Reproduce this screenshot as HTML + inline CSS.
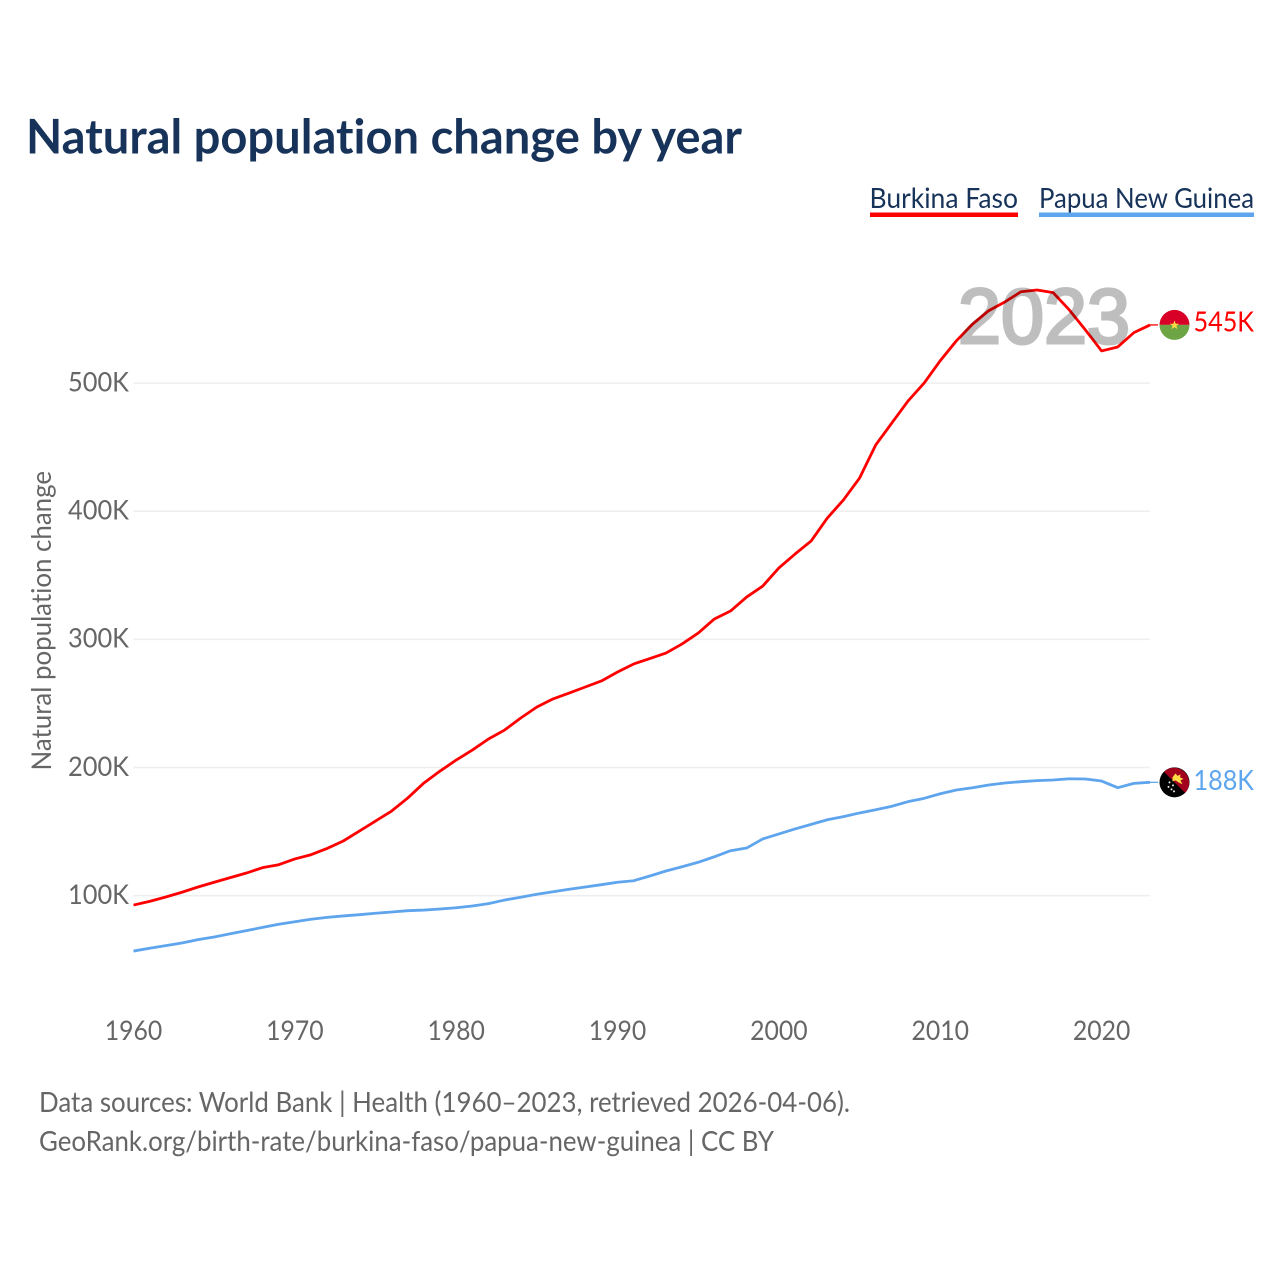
<!DOCTYPE html>
<html lang="en">
<head>
<meta charset="utf-8">
<title>Natural population change by year</title>
<style>
  html, body { margin: 0; padding: 0; background: #fff; }
  svg { display: block; }
  text { font-family: "Lato", "Carlito", "Liberation Sans", sans-serif; font-variant-ligatures: none; }
</style>
</head>
<body>
<svg id="chart" xmlns="http://www.w3.org/2000/svg" width="1280" height="1280" viewBox="0 0 1280 1280">
  <rect width="1280" height="1280" fill="#ffffff"/>
  <text x="26" y="153.7" font-size="47.5" font-weight="700" fill="#17335a" textLength="716" lengthAdjust="spacingAndGlyphs">Natural population change by year</text>

  <g>
    <text x="869.5" y="208" font-size="28.5" fill="#17335a" textLength="148.5" lengthAdjust="spacingAndGlyphs">Burkina Faso</text>
    <rect x="870" y="212.5" width="148" height="4.5" fill="#ff0000"/>
  </g>
  <g>
    <text x="1039" y="208" font-size="28.5" fill="#17335a" textLength="215" lengthAdjust="spacingAndGlyphs">Papua New Guinea</text>
    <rect x="1039" y="212.5" width="215" height="4.5" fill="#5ea5ee"/>
  </g>

  <g id="grid"></g>
  <g id="yticks"></g>
  <g id="xticks"></g>
  <text transform="translate(51,770.5) rotate(-90)" x="0" y="0" font-size="27.5" fill="#666666" textLength="299.5" lengthAdjust="spacingAndGlyphs">Natural population change</text>

  <g id="series"></g>
  <text x="958" y="343" font-size="78" font-weight="400" style='font-family:"Liberation Sans",sans-serif' fill="#000000" stroke="#000000" stroke-width="3" opacity="0.25" textLength="172" lengthAdjust="spacingAndGlyphs">2023</text>
  <g id="ends"></g>

  <text x="39" y="1112" font-size="28.5" fill="#666666" textLength="811" lengthAdjust="spacingAndGlyphs">Data sources: World Bank | Health (1960–2023, retrieved 2026-04-06).</text>
  <text x="39" y="1151" font-size="28.5" fill="#666666" textLength="735" lengthAdjust="spacingAndGlyphs">GeoRank.org/birth-rate/burkina-faso/papua-new-guinea | CC BY</text>
</svg>
<script>
const startYear = 1960;
const xTickYears = [1960, 1970, 1980, 1990, 2000, 2010, 2020];
const yTickValues = [100, 200, 300, 400, 500];
const burkinaFasoValues = [
  92.6, 95.5, 98.9, 102.6, 106.7, 110.4, 114.0, 117.6, 121.8, 124.1,
  128.6, 131.9, 136.8, 142.6, 150.4, 158.2, 166.0, 176.2, 187.9, 197.2,
  205.8, 213.6, 222.2, 229.2, 238.6, 247.2, 253.5, 258.1, 262.8, 267.5,
  274.5, 280.8, 285.0, 289.3, 296.4, 304.9, 315.9, 322.1, 333.0, 341.6,
  355.7, 366.6, 376.8, 394.7, 408.8, 425.9, 451.7, 468.9, 486.0, 500.0,
  517.5, 533.0, 546.0, 556.5, 563.3, 571.3, 572.7, 570.6, 557.1, 541.4,
  525.1, 528.2, 539.4, 545.4
];
const papuaNewGuineaValues = [
  56.7, 58.9, 60.9, 63.0, 65.6, 67.7, 70.2, 72.6, 75.2, 77.6,
  79.6, 81.5, 83.0, 84.1, 85.1, 86.2, 87.2, 88.2, 88.7, 89.5,
  90.5, 91.9, 93.7, 96.5, 98.7, 101.0, 103.0, 104.9, 106.7, 108.5,
  110.4, 111.6, 115.3, 119.2, 122.5, 126.0, 130.3, 135.0, 137.1, 144.2,
  148.1, 152.0, 155.6, 159.2, 161.6, 164.5, 167.0, 169.7, 173.3, 175.9,
  179.5, 182.4, 184.2, 186.3, 187.9, 188.9, 189.7, 190.2, 191.2, 191.0,
  189.4, 184.2, 187.6, 188.4
];

const NS = 'http://www.w3.org/2000/svg';
const xScale = function (year) { return 133.5 + (year - 1960) * 16.135; };
const yScale = function (value) { return 1023.7 - value * 1.2812; };

function make(tag, attrs, parent) {
  const el = document.createElementNS(NS, tag);
  for (const k in attrs) el.setAttribute(k, attrs[k]);
  parent.appendChild(el);
  return el;
}

const gridGroup = document.getElementById('grid');
const yGroup = document.getElementById('yticks');
yTickValues.forEach(function (v) {
  const line = make('line', { x1: 133.5, x2: 1150, y1: yScale(v), y2: yScale(v), stroke: '#eeeeee', 'stroke-width': 1.5 }, gridGroup);
  
  
  const label = make('text', { x: 129, y: yScale(v) + 8.4, 'text-anchor': 'end', 'font-size': 27.5, fill: '#666666', textLength: 61, lengthAdjust: 'spacingAndGlyphs' }, yGroup);
  
  
  label.textContent = v + 'K';
});

const xGroup = document.getElementById('xticks');
xTickYears.forEach(function (year) {
  const label = make('text', { x: xScale(year), y: 1040, 'text-anchor': 'middle', 'font-size': 27.5, fill: '#666666', textLength: 57.5, lengthAdjust: 'spacingAndGlyphs' }, xGroup);
  
  
  label.textContent = year;
});

const seriesGroup = document.getElementById('series');
const endsGroup = document.getElementById('ends');

function drawSeries(values, color) {
  const pts = values.map(function (v, i) { return xScale(startYear + i).toFixed(2) + ',' + yScale(v).toFixed(2); }).join(' ');
  const line = make('polyline', { points: pts, fill: 'none', stroke: color, 'stroke-width': 2.8, 'stroke-linejoin': 'round' }, seriesGroup);
  
  
  const lastX = xScale(startYear + values.length - 1);
  const lastY = yScale(values[values.length - 1]);
  const tail = make('line', { x1: lastX, x2: 1158, y1: lastY, y2: lastY, stroke: color, 'stroke-width': 1.3 }, seriesGroup);
  
  
  return lastY;
}

function drawEndLabel(value, y, color, width, offset) {
  const label = make('text', { x: 1193.5, y: y + offset, 'font-size': 28, fill: color, textLength: width, lengthAdjust: 'spacingAndGlyphs' }, endsGroup);
  
  
  label.textContent = Math.round(value) + 'K';
}

const bfY = drawSeries(burkinaFasoValues, '#ff0000');
const pngY = drawSeries(papuaNewGuineaValues, '#5ea5ee');

/* Burkina Faso flag */
const bf = make('g', { transform: 'translate(1174.5,' + bfY + ')' }, endsGroup);


make('path', { d: 'M-15,0A15,15 0 0 1 15,0Z', fill: '#d80027' }, bf);
make('path', { d: 'M-15,0A15,15 0 0 0 15,0Z', fill: '#6da544' }, bf);
make('polygon', { points: '0,-4.5 1.2,-1.2 4.6,-1.2 1.9,0.9 2.9,4.2 0,2.2 -2.9,4.2 -1.9,0.9 -4.6,-1.2 -1.2,-1.2', fill: '#ffda44' }, bf);

/* Papua New Guinea flag */
const png = make('g', { transform: 'translate(1174.5,' + pngY + ')' }, endsGroup);


make('circle', { r: 15, fill: '#000000' }, png);
make('path', { d: 'M-10.6,-10.6A15,15 0 0 1 10.6,10.6Z', fill: '#a2001d' }, png);
make('path', { d: 'M-2,-5 L1,-9 L3,-6.5 L6,-8 L5.5,-5 L9,-3.5 L6,-2 L8,2 L4,0 L1,-2 L-2,-1 Z', fill: '#ffda44' }, png);
[[-5, 0], [-1.5, 3], [-6, 4.5], [-3, 7], [-0.5, 9]].forEach(function (s) {
  make('circle', { cx: s[0], cy: s[1], r: 1, fill: '#f0f0f0' }, png);
});

drawEndLabel(burkinaFasoValues[burkinaFasoValues.length - 1], bfY, '#ff0000', 60.5, 6.5);
drawEndLabel(papuaNewGuineaValues[papuaNewGuineaValues.length - 1], pngY, '#5ea5ee', 60.5, 7.5);
</script>
</body>
</html>
